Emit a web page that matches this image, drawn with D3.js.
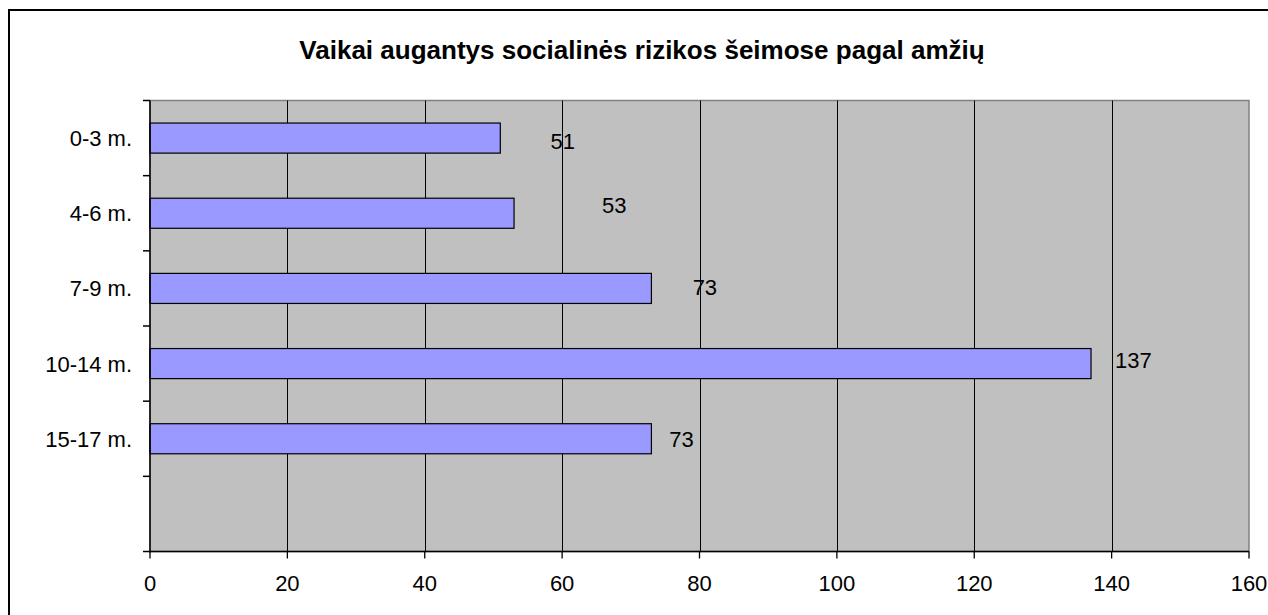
<!DOCTYPE html>
<html><head><meta charset="utf-8">
<script src="https://cdn.jsdelivr.net/npm/d3@7"></script>
<style>body{margin:0;background:#fff}svg{display:block}text{font-family:"Liberation Sans",Arial,sans-serif}</style>
</head><body><svg id="c" width="1268" height="615"></svg>
<script>
const title = "Vaikai augantys socialinės rizikos šeimose pagal amžių";
const categories = ["0-3 m.", "4-6 m.", "7-9 m.", "10-14 m.", "15-17 m.", ""];
const values = [51, 53, 73, 137, 73];
const xTicks = [0, 20, 40, 60, 80, 100, 120, 140, 160];
// where Excel placed each data label (value units along x)
const labelAt = [58.3, 65.8, 79.0, 140.5, 75.6];
const labelShift = [3, -8, -1, -4, 0];

const svg = d3.select("#c");
const L = 150, R = 1249, T = 100.5, B = 551.5;

svg.append("rect").attr("x", 9).attr("y", 10).attr("width", 1400).attr("height", 800)
  .attr("fill", "#fff").attr("stroke", "#000").attr("stroke-width", 2);

const x = d3.scaleLinear().domain([0, 160]).range([L, R]);
const y = d3.scaleBand().domain(categories).range([T, B]).paddingInner(0.6).paddingOuter(0.3);

svg.append("rect").attr("x", L).attr("y", T).attr("width", R - L).attr("height", B - T)
  .attr("fill", "#c0c0c0").attr("stroke", "#808080").attr("stroke-width", 1.5);

// gridlines
svg.append("g").selectAll("line").data(xTicks.filter(d => d > 0 && d < 160)).join("line")
  .attr("x1", d => Math.round(x(d)) + 0.5).attr("x2", d => Math.round(x(d)) + 0.5)
  .attr("y1", T).attr("y2", B).attr("stroke", "#000").attr("stroke-width", 1);

// bars
svg.append("g").selectAll("rect").data(values).join("rect")
  .attr("x", x(0)).attr("y", (d, i) => y(categories[i]))
  .attr("width", d => x(d) - x(0)).attr("height", y.bandwidth())
  .attr("fill", "#9999ff").attr("stroke", "#000").attr("stroke-width", 1.2);

// y axis (category boundaries as ticks)
const step = y.step();
const yBounds = d3.range(categories.length + 1).map(i => T + i * (B - T) / categories.length);
svg.append("line").attr("x1", L).attr("x2", L).attr("y1", T).attr("y2", B + 1).attr("stroke", "#000").attr("stroke-width", 1.5);
svg.append("g").selectAll("line").data(yBounds).join("line")
  .attr("x1", L - 7).attr("x2", L).attr("y1", d => d).attr("y2", d => d).attr("stroke", "#000").attr("stroke-width", 1.5);
svg.append("g").selectAll("text").data(categories.filter(c => c)).join("text")
  .attr("x", 132).attr("y", d => y(d) + y.bandwidth() / 2).attr("dy", "0.36em")
  .attr("text-anchor", "end").attr("font-size", 22).attr("fill", "#000").text(d => d);

// x axis
svg.append("line").attr("x1", L).attr("x2", R).attr("y1", B).attr("y2", B).attr("stroke", "#000").attr("stroke-width", 1.5);
svg.append("g").selectAll("line").data(xTicks).join("line")
  .attr("x1", d => x(d)).attr("x2", d => x(d)).attr("y1", B).attr("y2", B + 7).attr("stroke", "#000").attr("stroke-width", 1.3);
svg.append("g").selectAll("text").data(xTicks).join("text")
  .attr("x", d => x(d)).attr("y", 583).attr("dy", "0.36em")
  .attr("text-anchor", "middle").attr("font-size", 22).attr("fill", "#000").text(d => d);

// data labels
svg.append("g").selectAll("text").data(values).join("text")
  .attr("x", (d, i) => x(labelAt[i]))
  .attr("y", (d, i) => y(categories[i]) + y.bandwidth() / 2 + labelShift[i]).attr("dy", "0.36em")
  .attr("font-size", 22).attr("fill", "#000").text(d => d);

// title
const tt = svg.append("text").attr("x", 642).attr("y", 58.5).attr("text-anchor", "middle")
  .attr("font-size", 24).attr("font-weight", "bold").attr("fill", "#000").text(title);
const w = tt.node().getComputedTextLength();
tt.attr("font-size", 24 * 686 / w);
</script></body></html>
